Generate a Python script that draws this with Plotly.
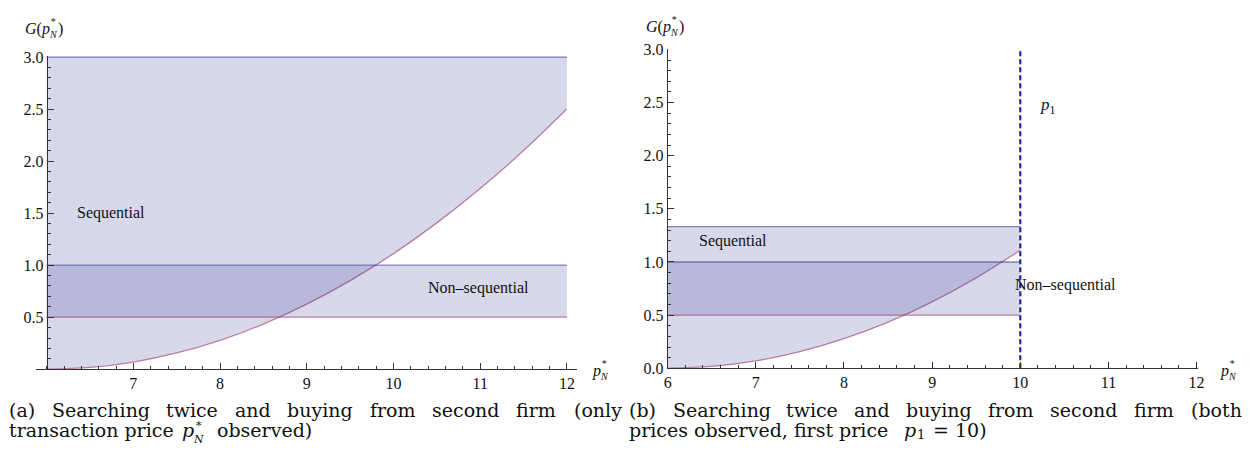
import plotly.graph_objects as go

# ---------------- data ----------------
price_grid = [6.0, 6.5, 7.0, 7.5, 8.0, 8.5, 9.0, 9.5, 10.0, 10.5, 11.0, 11.5, 12.0]
g_curve = [0.0, 0.017, 0.069, 0.156, 0.278, 0.434, 0.625, 0.851, 1.111, 1.406, 1.736, 2.101, 2.5]

x_start = 6.0
x_end_a = 12.0
seq_upper_a = 3.0
seq_upper_b = 1.333
nonseq_upper = 1.0
nonseq_lower = 0.5
p1 = 10.0
p1_line_top = 3.0

x_ticks_a = [7, 8, 9, 10, 11, 12]
y_ticks_a = [0.5, 1.0, 1.5, 2.0, 2.5, 3.0]
x_ticks_b = [6, 7, 8, 9, 10, 11, 12]
y_ticks_b = [0.0, 0.5, 1.0, 1.5, 2.0, 2.5, 3.0]

caption_a1 = ["(a)", "Searching", "twice", "and", "buying", "from", "second", "firm", "(only"]
caption_b1 = ["(b)", "Searching", "twice", "and", "buying", "from", "second", "firm", "(both"]

# ---------------- styling ----------------
W, H = 1250, 463
BLUE = "rgba(61,61,153,0.62)"
PURPLE = "rgba(153,61,113,0.62)"
FILL = "rgba(61,61,153,0.2)"
DASH = "rgb(38,38,150)"
AX = "#333333"
SERIF = "Liberation Serif"
CAPF = "DejaVu Serif"


def px(x):
    return x / W


def py(y):
    return 1 - y / H


fig = go.Figure()

# ---------- panel (a) ----------
fig.add_trace(go.Scatter(x=[x_start, x_end_a], y=[seq_upper_a, seq_upper_a], mode="lines",
                         line=dict(color=BLUE, width=1.3), xaxis="x", yaxis="y", hoverinfo="skip"))
fig.add_trace(go.Scatter(x=price_grid, y=g_curve, mode="lines",
                         line=dict(color=PURPLE, width=1.3, shape="spline"),
                         fill="tonexty", fillcolor=FILL, xaxis="x", yaxis="y", hoverinfo="skip"))
fig.add_trace(go.Scatter(x=[x_start, x_end_a], y=[nonseq_upper, nonseq_upper], mode="lines",
                         line=dict(color=BLUE, width=1.3), xaxis="x", yaxis="y", hoverinfo="skip"))
fig.add_trace(go.Scatter(x=[x_start, x_end_a], y=[nonseq_lower, nonseq_lower], mode="lines",
                         line=dict(color=PURPLE, width=1.3),
                         fill="tonexty", fillcolor=FILL, xaxis="x", yaxis="y", hoverinfo="skip"))

# ---------- panel (b) ----------
bx = [x for x in price_grid if x <= p1]
bg = [g for x, g in zip(price_grid, g_curve) if x <= p1]
fig.add_trace(go.Scatter(x=[x_start, p1], y=[seq_upper_b, seq_upper_b], mode="lines",
                         line=dict(color=BLUE, width=1.3), xaxis="x2", yaxis="y2", hoverinfo="skip"))
fig.add_trace(go.Scatter(x=bx, y=bg, mode="lines",
                         line=dict(color=PURPLE, width=1.3, shape="spline"),
                         fill="tonexty", fillcolor=FILL, xaxis="x2", yaxis="y2", hoverinfo="skip"))
fig.add_trace(go.Scatter(x=[x_start, p1], y=[nonseq_upper, nonseq_upper], mode="lines",
                         line=dict(color=BLUE, width=1.3), xaxis="x2", yaxis="y2", hoverinfo="skip"))
fig.add_trace(go.Scatter(x=[x_start, p1], y=[nonseq_lower, nonseq_lower], mode="lines",
                         line=dict(color=PURPLE, width=1.3),
                         fill="tonexty", fillcolor=FILL, xaxis="x2", yaxis="y2", hoverinfo="skip"))
fig.add_trace(go.Scatter(x=[p1, p1], y=[0, p1_line_top], mode="lines",
                         line=dict(color=DASH, width=2.2, dash="5px,3px"),
                         xaxis="x2", yaxis="y2", hoverinfo="skip"))

common_axis = dict(showline=True, linecolor=AX, linewidth=1, ticks="inside", ticklen=6,
                   tickcolor=AX, tickwidth=1, showgrid=False, zeroline=False,
                   tickfont=dict(family=SERIF, size=16, color="#111"), fixedrange=True)

fig.update_layout(
    width=W, height=H, margin=dict(l=0, r=0, t=0, b=0, pad=0), autosize=False,
    paper_bgcolor="white", plot_bgcolor="rgba(0,0,0,0)", showlegend=False,
    xaxis=dict(domain=[px(32), px(578)], range=[5.874, 12.121], anchor="y",
               tickmode="array", tickvals=x_ticks_a, ticktext=[str(v) for v in x_ticks_a],
               minor=dict(tickmode="linear", tick0=6, dtick=0.2, ticks="inside", ticklen=3.5,
                          tickcolor=AX, showgrid=False),
               **common_axis),
    yaxis=dict(domain=[py(375), py(50)], range=[0, 3.008], anchor="free", position=px(43),
               tickmode="array", tickvals=y_ticks_a, ticktext=["%.1f" % v for v in y_ticks_a],
               minor=dict(tickmode="linear", tick0=0, dtick=0.1, ticks="inside", ticklen=3.5,
                          tickcolor=AX, showgrid=False),
               **common_axis),
    xaxis2=dict(domain=[px(669), px(1204)], range=[6, 12.02], anchor="y2",
                tickmode="array", tickvals=x_ticks_b, ticktext=[str(v) for v in x_ticks_b],
                minor=dict(tickmode="linear", tick0=6, dtick=0.2, ticks="inside", ticklen=3.5,
                           tickcolor=AX, showgrid=False),
                **common_axis),
    yaxis2=dict(domain=[py(374), py(43)], range=[0, 3.0], anchor="x2",
                tickmode="array", tickvals=y_ticks_b, ticktext=["%.1f" % v for v in y_ticks_b],
                minor=dict(tickmode="linear", tick0=0, dtick=0.1, ticks="inside", ticklen=3.5,
                           tickcolor=AX, showgrid=False),
                **common_axis),
)

ann = []


def txt(text, x, y, size=16, family=SERIF, xanchor="left", xref="paper", yref="paper", color="#111"):
    ann.append(dict(text=text, x=x, y=y, xref=xref, yref=yref, xanchor=xanchor, yanchor="middle",
                    showarrow=False, font=dict(family=family, size=size, color=color)))


# region labels
txt("Sequential", 6.74, 1.5, size=16, xanchor="center", xref="x", yref="y")
txt("Non\u2013sequential", 10.98, 0.78, size=16, xanchor="center", xref="x", yref="y")
txt("Sequential", 6.74, 1.2, size=16, xanchor="center", xref="x2", yref="y2")
txt("Non\u2013sequential", 10.51, 0.78, size=16, xanchor="center", xref="x2", yref="y2")
txt("<i>p</i><sub>1</sub>", 10.2, 2.47, size=17, xanchor="left", xref="x2", yref="y2")


# axis titles  G(p*_N) and p*_N  (star stacked over the subscript N)
def g_title(x0, y0):
    txt("<i>G</i>(<i>p</i>", px(x0), py(y0), size=16)
    txt("*<br><i>N</i>", px(x0 + 24), py(y0 - 1), size=10)
    txt(")", px(x0 + 33), py(y0), size=16)


def p_title(x0, y0):
    txt("<i>p</i>", px(x0), py(y0), size=16)
    txt("*<br><i>N</i>", px(x0 + 8), py(y0 - 1), size=10)


g_title(19, 22)
g_title(645, 20)
p_title(591, 377)
p_title(1224, 377)

# captions (justified first lines reproduced word by word)
cap_a1_x = [3, 46.6, 161, 230.4, 283.5, 366.5, 429.5, 514.5, 572.1]
cap_b1_x = [628, 672, 786, 854.8, 907.5, 990, 1052.5, 1137, 1194.1]
for w, x in zip(caption_a1, cap_a1_x):
    txt(w, px(x), py(417), size=19, family=CAPF)
for w, x in zip(caption_b1, cap_b1_x):
    txt(w, px(x), py(417), size=19, family=CAPF)

txt("transaction price", px(3), py(438), size=19, family=CAPF)
txt("<i>p</i>", px(177), py(438), size=19, family=CAPF)
txt("*<br><i>N</i>", px(189), py(441), size=11, family=CAPF)
txt("observed)", px(213), py(438), size=19, family=CAPF)

txt("prices observed, first price", px(628), py(438), size=19, family=CAPF)
txt("<i>p</i>", px(905), py(438), size=19, family=CAPF)
txt("1", px(918), py(443), size=13, family=CAPF)
txt("= 10)", px(934), py(438), size=19, family=CAPF)

fig.update_layout(annotations=ann)
fig.write_html("out.html", config={"displayModeBar": False},
               post_script="document.body.style.margin='0px';")
